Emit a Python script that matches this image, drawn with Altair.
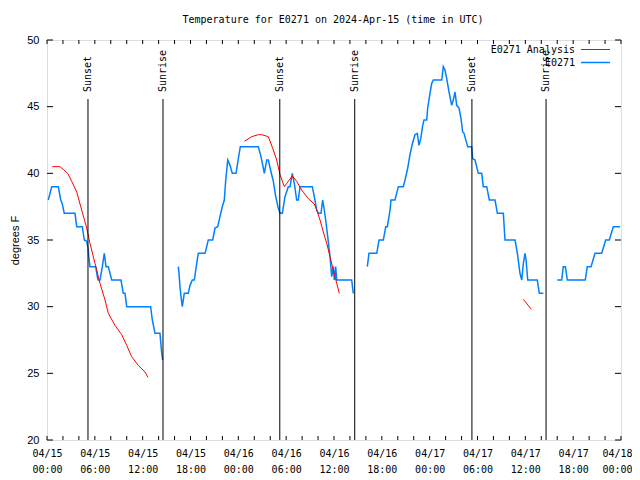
import altair as alt
import pandas as pd

# ---- data (hours after 2024-04-15 00:00 UTC, degrees F) ----
obs1_hours = [0.16, 0.59, 1.42, 1.72, 1.92, 2.17, 3.51, 3.73, 4.43, 4.68, 4.98, 5.18, 5.23, 5.39,
              6.11, 6.36, 6.43, 6.65, 6.94, 7.19, 7.40, 7.69, 8.12, 9.28, 9.57, 9.78, 10.0, 13.0,
              13.21, 13.55, 14.17, 14.39, 14.51]
obs1_temp = [38, 39, 39, 38, 37.7, 37, 37, 36, 36, 35, 34.9, 34.3, 33.8, 33,
             33, 32.1, 32, 32, 33, 34, 33, 33, 32, 32, 31, 31, 30, 30,
             29, 28, 28, 26.5, 26]

obs2_hours = [16.47, 16.56, 16.68, 16.81, 16.97, 17.22, 17.72, 17.94, 18.23, 18.48, 18.78, 18.98,
              19.82, 20.03, 20.23, 20.79, 21.07, 21.41, 21.70, 21.99, 22.24, 22.42, 22.67, 22.96,
              23.24, 23.71, 24.00, 24.25, 26.51, 26.84, 27.13, 27.26, 27.56, 27.76, 28.10, 28.39,
              28.69, 29.01, 29.23, 29.52, 29.85, 30.27, 30.48, 30.77, 31.02, 31.32, 31.52, 31.74,
              33.28, 33.53, 33.83, 34.03, 34.37, 34.58, 34.78, 34.96, 35.21, 35.50, 35.71, 35.91,
              36.04, 36.21, 36.34, 38.22, 38.42]
obs2_temp = [33, 32.5, 31.5, 30.75, 30, 31, 31, 31.6, 32, 32, 33.25, 34,
             34, 34.5, 35, 35, 35.9, 36, 36.75, 37.5, 38, 39.5, 41, 40.6,
             40, 40, 41.1, 42, 42, 41.25, 40.4, 40, 41, 41, 40.1, 39.4,
             38.25, 37.4, 37, 37, 38.25, 39, 39, 40, 39.25, 38, 38, 39,
             39, 38.25, 37.25, 37, 37, 38, 37.25, 36.5, 35.25, 33.75, 32.25, 33,
             32, 33, 32, 32, 31]

obs3_hours = [40.18, 40.39, 41.36, 41.65, 42.19, 42.49, 42.69, 43.03, 43.15, 43.65, 44.07, 44.69,
              44.91, 45.25, 45.53, 45.82, 46.16, 46.45, 46.66, 46.88, 47.13, 47.29, 47.63, 47.75,
              48.04, 48.26, 48.46, 49.51, 49.71, 49.92, 50.14, 50.43, 50.76, 50.96, 51.18, 51.39,
              51.68, 51.93, 52.14, 52.31, 52.65, 52.77, 53.27, 53.40, 53.69, 54.10, 54.53, 54.73,
              55.16, 55.48, 56.20, 56.49, 57.24, 57.45, 58.71, 59.00, 59.33, 59.55, 59.75, 59.96,
              60.09, 60.30, 61.50, 61.75, 62.26]
obs3_temp = [33, 34, 34, 35, 35, 36, 36, 37.25, 38, 38, 39, 39,
             39.5, 40.4, 41.4, 42.2, 42.9, 43, 42.1, 42.6, 43.6, 44, 44, 44.9,
             46, 46.75, 47, 47, 48, 47.75, 47.1, 46.1, 45.1, 45.5, 46.1, 45.1,
             44.9, 44.1, 43.1, 43, 42.25, 42, 42, 41.1, 41, 40, 40, 39,
             39, 38, 38, 37, 37, 35, 35, 34, 32.5, 32, 33.25, 34,
             33.5, 32, 32, 31, 31]

obs4_hours = [64.01, 64.56, 64.76, 65.02, 65.27, 67.52, 67.77, 68.24, 68.74, 69.58, 70.08, 70.53,
              71.04, 71.88]
obs4_temp = [32, 32, 33, 33, 32, 32, 33, 33, 34, 34, 35, 35, 36, 36]

ana1_hours = [0.66, 1.63, 2.04, 2.6, 3.1, 3.73, 4.35, 4.98, 5.39, 6.02, 6.65, 7.28, 7.69, 8.53,
              9.37, 10.0, 10.62, 11.45, 12.29, 12.67]
ana1_temp = [40.5, 40.5, 40.3, 40, 39.4, 38.6, 37.25, 35.9, 34.75, 33.25, 31.75, 30.5, 29.5, 28.6,
             27.9, 27.1, 26.25, 25.6, 25.1, 24.7]
ana2_hours = [24.75, 25.68, 26.51, 26.93, 27.76, 28.39, 28.81, 29.23, 29.77, 30.27, 30.77, 31.32,
              31.95, 32.78, 33.53, 33.83, 34.25, 34.66, 35.09, 35.50, 35.91, 36.34, 36.67]
ana2_temp = [42.4, 42.75, 42.9, 42.9, 42.75, 41.75, 41, 39.9, 39, 39.4, 39.8, 39.4,
             38.75, 38.1, 37.7, 37.25, 36.5, 35.6, 34.75, 33.75, 32.75, 31.75, 31]
ana3_hours = [59.75, 60.75]
ana3_temp = [30.55, 29.8]

sun_hours = [5.14, 14.55, 29.2, 38.6, 53.3, 62.6]
sun_labels = ["Sunset", "Sunrise", "Sunset", "Sunrise", "Sunset", "Sunrise"]

series_names = ["E0271 Analysis", "E0271"]
series_colors = ["#ff0000", "#0080ff"]

y_ticks = [20, 25, 30, 35, 40, 45, 50]
x_label_hours = list(range(0, 73, 6))
x_tick_hours = list(range(0, 73, 2))

title_text = "Temperature for E0271 on 2024-Apr-15 (time in UTC)"
y_title = "degrees F"

T0 = pd.Timestamp("2024-04-15T00:00:00")


def iso(h):
    return (T0 + pd.Timedelta(hours=h)).strftime("%Y-%m-%dT%H:%M:%SZ")


rows = []
for seg, (hs, ts) in enumerate([(obs1_hours, obs1_temp), (obs2_hours, obs2_temp),
                                (obs3_hours, obs3_temp), (obs4_hours, obs4_temp)]):
    for h, t in zip(hs, ts):
        rows.append({"time": iso(h), "temp": t, "seg": f"o{seg}"})
obs_df = pd.DataFrame(rows)

rows = []
for seg, (hs, ts) in enumerate([(ana1_hours, ana1_temp), (ana2_hours, ana2_temp),
                                (ana3_hours, ana3_temp)]):
    for h, t in zip(hs, ts):
        rows.append({"time": iso(h), "temp": t, "seg": f"a{seg}"})
ana_df = pd.DataFrame(rows)

sun_df = pd.DataFrame({"time": [iso(h) for h in sun_hours], "label": sun_labels})
ytick_df = pd.DataFrame({"v": y_ticks})
xtick_df = pd.DataFrame({"time": [iso(h) for h in x_tick_hours]})

W, H = 574, 400
MONO = "DejaVu Sans Mono"
SANS = "Liberation Sans"

x_scale = alt.Scale(type="utc",
                    domain=[alt.DateTime(year=2024, month=4, date=15, utc=True),
                            alt.DateTime(year=2024, month=4, date=18, utc=True)])
y_scale = alt.Scale(domain=[20, 50], nice=False, zero=False)

x_axis = alt.Axis(
    values=[alt.DateTime(year=2024, month=4, date=15 + h // 24, hours=h % 24, utc=True)
            for h in x_label_hours],
    labelExpr="[utcFormat(datum.value, '%m/%d'), utcFormat(datum.value, '%H:%M')]",
    title=None, ticks=False, domain=False, grid=False,
    labelFont=MONO, labelFontSize=10, labelColor="black",
    labelPadding=8, labelLineHeight=16, labelBaseline="top", labelFlush=False,
    labelOverlap=False,
    labelAlign={"expr": "datum.index > 0.99 ? 'right' : 'center'"},
    labelOffset={"expr": "datum.index > 0.99 ? 11 : 0"},
)
y_axis = alt.Axis(
    values=y_ticks, title=y_title, ticks=False, domain=False, grid=False,
    labelFont=SANS, labelFontSize=11, labelColor="black", labelPadding=8,
    titleFont=SANS, titleFontSize=11, titleFontWeight="normal", titleColor="black",
    titleX=-32, titleBaseline="middle", titleAngle=270,
)

obs = alt.Chart(obs_df).mark_line(color=series_colors[1], strokeWidth=1.5).encode(
    x=alt.X("time:T", scale=x_scale, axis=x_axis),
    y=alt.Y("temp:Q", scale=y_scale, axis=y_axis),
    detail="seg:N",
)
ana = alt.Chart(ana_df).mark_line(color=series_colors[0], strokeWidth=1).encode(
    x=alt.X("time:T"), y=alt.Y("temp:Q"), detail="seg:N",
)
sun_rule = alt.Chart(sun_df).mark_rule(color="black", strokeWidth=1).encode(
    x="time:T", y=alt.value(59), y2=alt.value(H),
)
sun_text = alt.Chart(sun_df).mark_text(
    angle=270, align="left", baseline="middle", font=MONO, fontSize=10, color="black"
).encode(x="time:T", y=alt.value(52), text="label:N")

ytl = alt.Chart(ytick_df).mark_rule(color="black").encode(
    y="v:Q", x=alt.value(0), x2=alt.value(6))
ytr = alt.Chart(ytick_df).mark_rule(color="black").encode(
    y="v:Q", x=alt.value(W - 6), x2=alt.value(W))
xtb = alt.Chart(xtick_df).mark_rule(color="black").encode(
    x="time:T", y=alt.value(H - 4), y2=alt.value(H))
xtt = alt.Chart(xtick_df).mark_rule(color="black").encode(
    x="time:T", y=alt.value(0), y2=alt.value(4))

title_mark = alt.Chart(pd.DataFrame({"t": [title_text]})).mark_text(
    align="center", baseline="middle", font=MONO, fontSize=10, color="black"
).encode(text="t:N", x=alt.value(W / 2 - 1), y=alt.value(-20))

legend_layers = []
for i, (name, col) in enumerate(zip(series_names, series_colors)):
    ly = 10 + 13 * i
    ldf = pd.DataFrame({"name": [name]})
    legend_layers.append(
        alt.Chart(ldf).mark_text(align="right", baseline="middle", font=MONO, fontSize=10,
                                 color="black").encode(
            text="name:N", x=alt.value(528), y=alt.value(ly)))
    legend_layers.append(
        alt.Chart(ldf).mark_rule(color=col, strokeWidth=1.5 if i else 1).encode(
            x=alt.value(534), x2=alt.value(563), y=alt.value(ly - 0.5)))

chart = alt.layer(obs, ana, sun_rule, sun_text, ytl, ytr, xtb, xtt, title_mark,
                  *legend_layers).properties(
    width=W, height=H,
    autosize=alt.AutoSizeParams(type="none"),
    padding={"left": 39, "top": 32, "right": 11, "bottom": 40},
).configure_view(stroke="black", strokeWidth=1).configure(background="white")

chart.save("out.html", embed_options={"renderer": "svg", "actions": False})
